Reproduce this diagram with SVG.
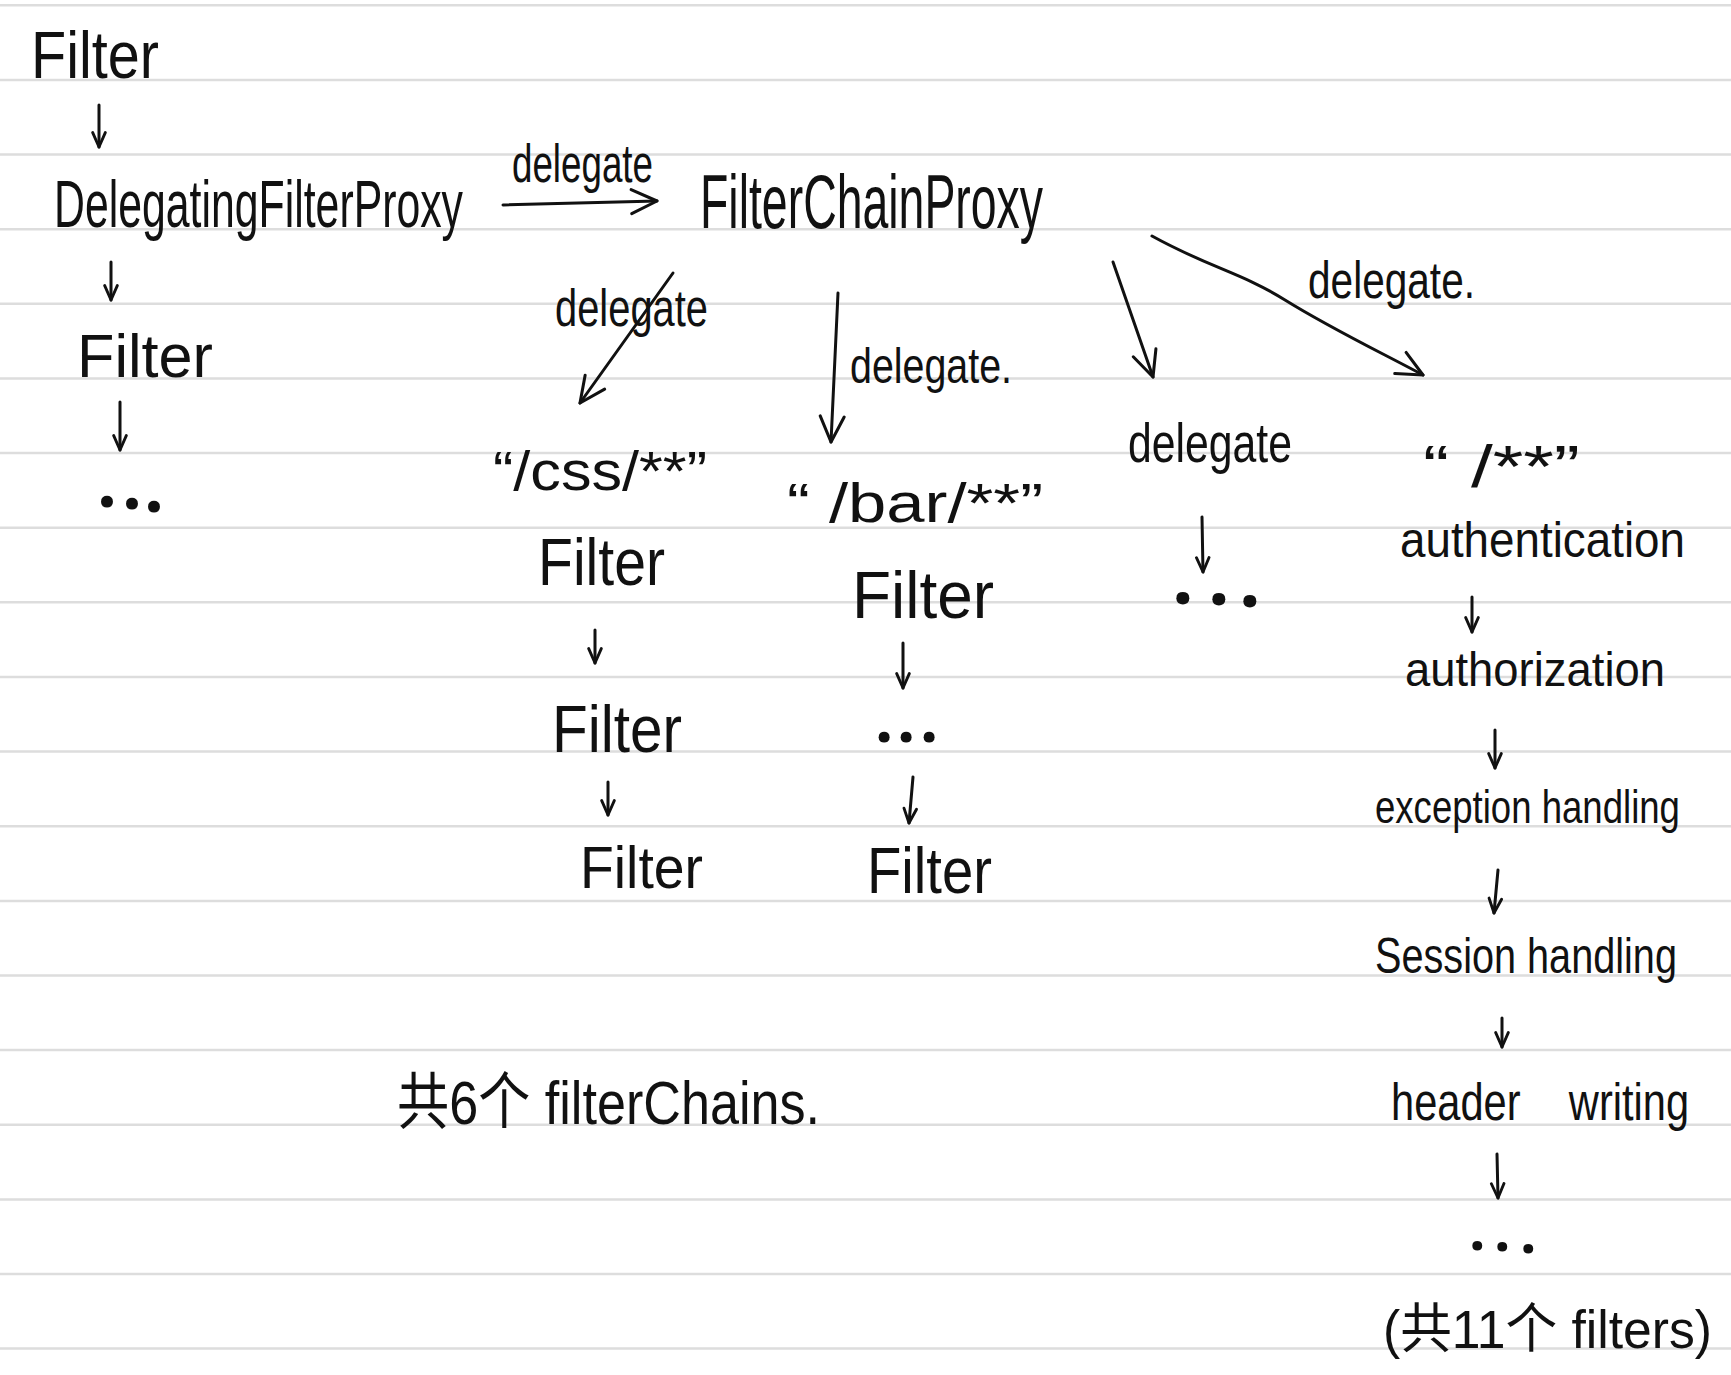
<svg xmlns="http://www.w3.org/2000/svg" width="1731" height="1375" viewBox="0 0 1731 1375">
<defs>
<style>
.t{font-family:"Liberation Sans","Noto Sans CJK SC",sans-serif;fill:#111;}
.d{font-family:"Open Sans",sans-serif;font-weight:bold;fill:#111;}
.rule{stroke:#dddddd;stroke-width:2.5;}
.c{fill:none;stroke:#111;stroke-width:3;stroke-linecap:round;stroke-linejoin:round;}
.s{marker-end:url(#hs);}
.l{marker-end:url(#hl);}
</style>
<marker id="hs" viewBox="0 0 20 20" refX="18" refY="10" markerWidth="18" markerHeight="18" orient="auto" markerUnits="userSpaceOnUse">
<path d="M2,3 L18,10 L2,17" fill="none" stroke="#111" stroke-width="3.2" stroke-linecap="round" stroke-linejoin="round"/>
</marker>
<marker id="hl" viewBox="0 0 20 20" refX="18" refY="10" markerWidth="32" markerHeight="32" orient="auto" markerUnits="userSpaceOnUse">
<path d="M2,2.5 L18,10 L2,17.5" fill="none" stroke="#111" stroke-width="1.9" stroke-linecap="round" stroke-linejoin="round"/>
</marker>
</defs>
<rect width="1731" height="1375" fill="#ffffff"/>
<g id="paper">
<line class="rule" x1="0" y1="5.3" x2="1731" y2="5.3"/>
<line class="rule" x1="0" y1="79.9" x2="1731" y2="79.9"/>
<line class="rule" x1="0" y1="154.6" x2="1731" y2="154.6"/>
<line class="rule" x1="0" y1="229.2" x2="1731" y2="229.2"/>
<line class="rule" x1="0" y1="303.8" x2="1731" y2="303.8"/>
<line class="rule" x1="0" y1="378.5" x2="1731" y2="378.5"/>
<line class="rule" x1="0" y1="453.1" x2="1731" y2="453.1"/>
<line class="rule" x1="0" y1="527.7" x2="1731" y2="527.7"/>
<line class="rule" x1="0" y1="602.3" x2="1731" y2="602.3"/>
<line class="rule" x1="0" y1="677" x2="1731" y2="677"/>
<line class="rule" x1="0" y1="751.6" x2="1731" y2="751.6"/>
<line class="rule" x1="0" y1="826.2" x2="1731" y2="826.2"/>
<line class="rule" x1="0" y1="900.9" x2="1731" y2="900.9"/>
<line class="rule" x1="0" y1="975.5" x2="1731" y2="975.5"/>
<line class="rule" x1="0" y1="1050.1" x2="1731" y2="1050.1"/>
<line class="rule" x1="0" y1="1124.8" x2="1731" y2="1124.8"/>
<line class="rule" x1="0" y1="1199.4" x2="1731" y2="1199.4"/>
<line class="rule" x1="0" y1="1274" x2="1731" y2="1274"/>
<line class="rule" x1="0" y1="1348.6" x2="1731" y2="1348.6"/>
</g>
<g id="connectors">
<path class="c s" d="M99,105 L99,147"/>
<path class="c s" d="M111,262 L111,300"/>
<path class="c s" d="M120,402 L120,450"/>
<path class="c l" d="M503,205 L657,201"/>
<path class="c l" d="M673,273 L580,403"/>
<path class="c l" d="M838,293 L831,442"/>
<path class="c l" d="M1113,262 L1153,377"/>
<path class="c l" d="M1152,236 C1210,268 1240,272 1285,300 C1330,328 1380,352 1423,375"/>
<path class="c s" d="M1202,517 L1203,572"/>
<path class="c s" d="M595,630 L595,663"/>
<path class="c s" d="M903,643 L903,688"/>
<path class="c s" d="M608,782 L608,815"/>
<path class="c s" d="M913,777 L909,823"/>
<path class="c s" d="M1472,597 L1472,632"/>
<path class="c s" d="M1495,730 L1495,768"/>
<path class="c s" d="M1498,870 L1494,913"/>
<path class="c s" d="M1502,1018 L1502,1047"/>
<path class="c s" d="M1497,1154 L1498,1198"/>
</g>
<g id="filter-top"><text class="t" transform="translate(31,78) scale(0.873,1)" font-size="66" textLength="146.6" lengthAdjust="spacingAndGlyphs">Filter</text></g>
<g id="delegating-filter-proxy"><text class="t" transform="translate(54,227) scale(0.648,1)" font-size="66" textLength="631.2" lengthAdjust="spacingAndGlyphs">DelegatingFilterProxy</text></g>
<g id="filter-left"><text class="t" transform="translate(77,377) scale(0.987,1)" font-size="62" textLength="137.8" lengthAdjust="spacingAndGlyphs">Filter</text></g>
<g id="dots-left"><text class="d" x="97 122 144" y="507 509 512" font-size="70">...</text></g>
<g id="label-delegate-1"><text class="t" transform="translate(512,182) scale(0.681,1)" font-size="54" textLength="207" lengthAdjust="spacingAndGlyphs">delegate</text></g>
<g id="filter-chain-proxy"><text class="t" transform="translate(700,228) scale(0.611,1)" font-size="76" textLength="561.4" lengthAdjust="spacingAndGlyphs">FilterChainProxy</text></g>
<g id="label-delegate-2"><text class="t" transform="translate(555,326) scale(0.767,1)" font-size="52" textLength="199.5" lengthAdjust="spacingAndGlyphs">delegate</text></g>
<g id="label-delegate-3"><text class="t" transform="translate(850,383) scale(0.788,1)" font-size="50" textLength="205.6" lengthAdjust="spacingAndGlyphs">delegate.</text></g>
<g id="label-delegate-4"><text class="t" transform="translate(1308,298) scale(0.781,1)" font-size="52" textLength="213.8" lengthAdjust="spacingAndGlyphs">delegate.</text></g>
<g id="chain-css">
<text class="t" transform="translate(493,490) scale(1.092,1)" font-size="56" textLength="196" lengthAdjust="spacingAndGlyphs">“/css/**”</text>
<text class="t" transform="translate(538,585) scale(0.866,1)" font-size="66" textLength="146.6" lengthAdjust="spacingAndGlyphs">Filter</text>
<text class="t" transform="translate(552,752) scale(0.886,1)" font-size="66" textLength="146.7" lengthAdjust="spacingAndGlyphs">Filter</text>
<text class="t" transform="translate(580,888) scale(0.923,1)" font-size="60" textLength="133.3" lengthAdjust="spacingAndGlyphs">Filter</text>
</g>
<g id="chain-bar">
<text class="t" transform="translate(787,522) scale(1.228,1)" font-size="56" textLength="208.5" lengthAdjust="spacingAndGlyphs">“ /bar/**”</text>
<text class="t" transform="translate(852,618) scale(0.968,1)" font-size="66" textLength="146.7" lengthAdjust="spacingAndGlyphs">Filter</text>
<text class="d" x="875 897 920" y="742 742 742" font-size="64">...</text>
<text class="t" transform="translate(867,893) scale(0.879,1)" font-size="64" textLength="142.2" lengthAdjust="spacingAndGlyphs">Filter</text>
</g>
<g id="chain-other">
<text class="t" transform="translate(1128,462) scale(0.763,1)" font-size="56" textLength="214.9" lengthAdjust="spacingAndGlyphs">delegate</text>
<text class="d" x="1172 1208 1239" y="604 605 607" font-size="76">...</text>
</g>
<g id="chain-default">
<text class="t" transform="translate(1423,487) scale(1.308,1)" font-size="60" textLength="120" lengthAdjust="spacingAndGlyphs">“ /**”</text>
<text class="t" transform="translate(1400,557) scale(0.916,1)" font-size="50" textLength="311.1" lengthAdjust="spacingAndGlyphs">authentication</text>
<text class="t" transform="translate(1405,686) scale(0.946,1)" font-size="48" textLength="274.8" lengthAdjust="spacingAndGlyphs">authorization</text>
<text class="t" transform="translate(1375,823) scale(0.795,1)" font-size="46" textLength="383.6" lengthAdjust="spacingAndGlyphs">exception handling</text>
<text class="t" transform="translate(1375,973) scale(0.793,1)" font-size="50" textLength="380.8" lengthAdjust="spacingAndGlyphs">Session handling</text>
<text class="t" transform="translate(1391,1120) scale(0.8,1)" font-size="52" word-spacing="46">header writing</text>
<text class="d" x="1469 1494 1520" y="1250 1251 1253" font-size="58">...</text>
<text class="t" transform="translate(1383,1348) scale(0.945,1)" font-size="54" textLength="348.1" lengthAdjust="spacingAndGlyphs">(共11个 filters)</text>
</g>
<g id="note-chains"><text class="t" transform="translate(397,1124) scale(0.841,1)" font-size="62" textLength="503" lengthAdjust="spacingAndGlyphs">共6个 filterChains.</text></g>
</svg>
